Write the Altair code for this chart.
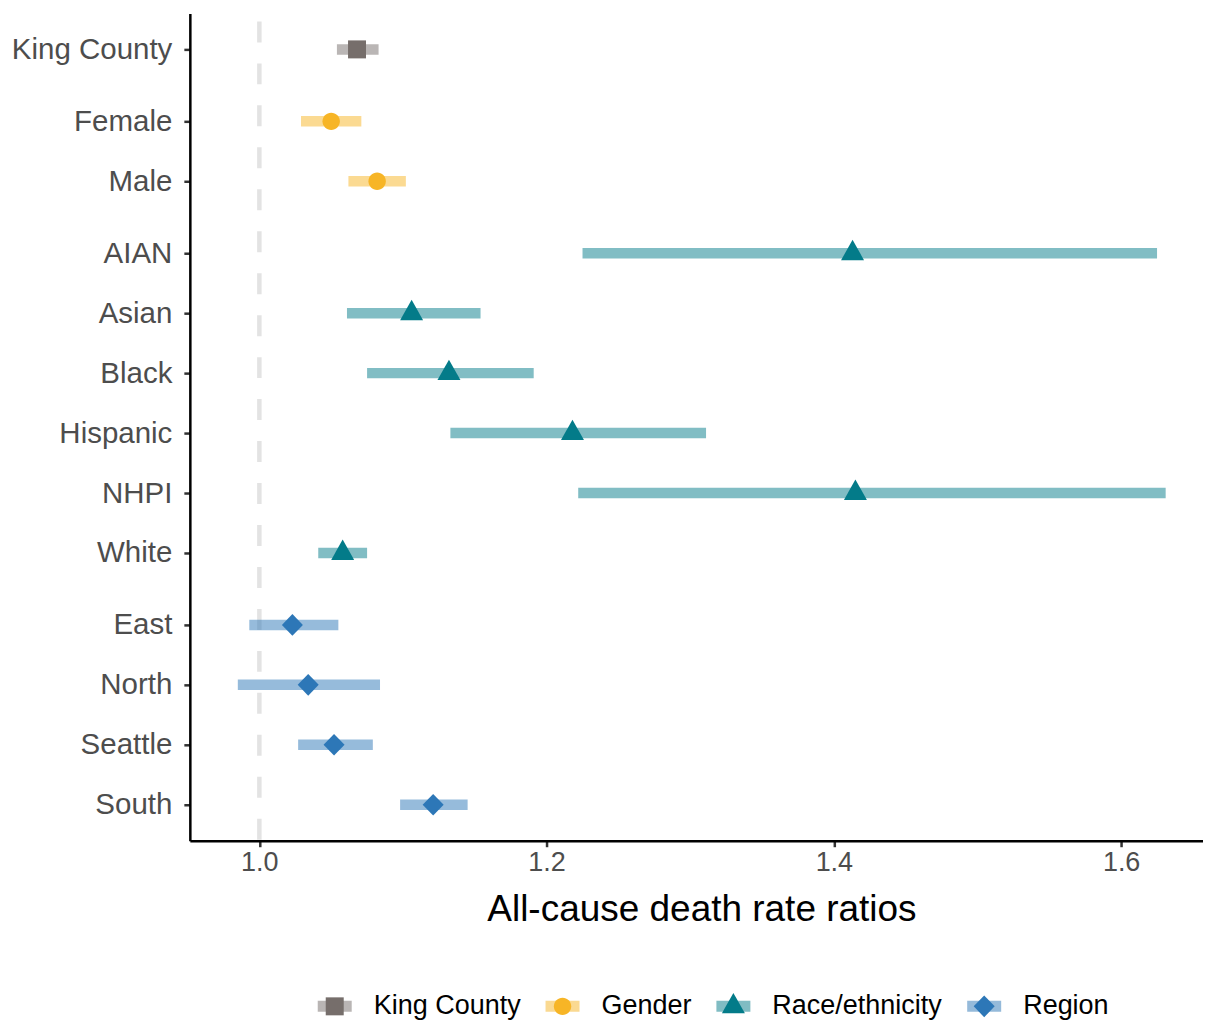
import altair as alt
import pandas as pd

# ---- data ----
groups = ["King County", "Gender", "Race/ethnicity", "Region"]
colors = ["#766e6b", "#f7b526", "#037b89", "#2d77b7"]

labels = ["King County", "Female", "Male", "AIAN", "Asian", "Black",
          "Hispanic", "NHPI", "White", "East", "North", "Seattle", "South"]
label_group = ["King County", "Gender", "Gender",
               "Race/ethnicity", "Race/ethnicity", "Race/ethnicity",
               "Race/ethnicity", "Race/ethnicity", "Race/ethnicity",
               "Region", "Region", "Region", "Region"]
estimate = [1.068, 1.050, 1.082, 1.413, 1.106, 1.132, 1.218, 1.415, 1.058,
            1.023, 1.034, 1.052, 1.121]
lower = [1.054, 1.029, 1.062, 1.225, 1.061, 1.075, 1.133, 1.222, 1.041,
         0.993, 0.985, 1.027, 1.098]
upper = [1.083, 1.071, 1.102, 1.625, 1.154, 1.191, 1.311, 1.631, 1.075,
         1.055, 1.084, 1.079, 1.145]
reference_ratio = [1.0]
x_ticks = [1.0, 1.2, 1.4, 1.6]

# shapes: square, circle, triangle, diamond (custom paths in the unit box)
shape_paths = [
    "M-0.4,-0.4H0.4V0.4H-0.4Z",
    "M-0.387,0A0.387,0.387,0,1,0,0.387,0A0.387,0.387,0,1,0,-0.387,0Z",
    "M0,-0.596L0.511,0.311L-0.511,0.311Z",
    "M0,-0.48L0.467,0L0,0.48L-0.467,0Z",
]

# ---- layout: rows with an extra gap between groups ----
group_idx = [groups.index(g) for g in label_group]
positions = [5 * i + g for i, g in enumerate(group_idx)]

df = pd.DataFrame({
    "label": labels, "group": label_group, "estimate": estimate,
    "lower": lower, "upper": upper, "pos": positions,
})
ref_df = pd.DataFrame({"ref": reference_ratio})

FONT = "Liberation Sans"
SYM = 2025        # point symbol size (custom paths are scaled by sqrt(size)/2)
BAR_SYM = 1156    # legend bar length 34 px
BAR_W = 11

label_expr = "[{}][indexof([{}], datum.value)]".format(
    ",".join("'" + l + "'" for l in labels), ",".join(str(p) for p in positions))

x_scale = alt.Scale(domain=[0.9516, 1.657], nice=False, zero=False)
x_axis = alt.Axis(values=x_ticks, format=".1f", title="All-cause death rate ratios",
                  labelPadding=3, titlePadding=16, labelFontSize=27, titleX=512)
y_scale = alt.Scale(domain=[-3, 66], reverse=True, nice=False, zero=False)
y_axis = alt.Axis(values=positions, labelExpr=label_expr, title=None,
                  labelPadding=12, labelFontSize=29.5)

LX, LY = 122.5, 971

bar_legend = alt.Legend(
    title=None, orient="none", legendX=LX, legendY=LY, direction="horizontal",
    symbolType="stroke", symbolSize=BAR_SYM,
    symbolStrokeWidth=BAR_W, symbolOpacity=0.5, labelOffset=16.5, columnPadding=2,
)
pt_legend = alt.Legend(
    title=None, orient="none", legendX=LX, legendY=LY, direction="horizontal",
    symbolSize=SYM, symbolStrokeWidth=0, symbolOpacity=1, labelOffset=16.5,
    columnPadding=19, labelOpacity=0,
)

ref_line = alt.Chart(ref_df).mark_rule(
    color="#e3e3e3", strokeWidth=4.5, strokeDash=[21, 21], strokeDashOffset=34
).encode(x=alt.X("ref:Q", scale=x_scale, axis=x_axis))

bars = alt.Chart(df).mark_rule(strokeWidth=10.5, opacity=0.5).encode(
    x=alt.X("lower:Q", scale=x_scale, axis=x_axis),
    x2="upper:Q",
    y=alt.Y("pos:Q", scale=y_scale, axis=y_axis),
    color=alt.Color("group:N", sort=groups, scale=alt.Scale(range=colors),
                    legend=bar_legend),
)

points = alt.Chart(df).mark_point(filled=True, size=SYM, opacity=1, strokeWidth=0).encode(
    x=alt.X("estimate:Q", scale=x_scale, axis=x_axis),
    y=alt.Y("pos:Q", scale=y_scale, axis=y_axis),
    fill=alt.Fill("group:N", scale=alt.Scale(domain=groups, range=colors),
                  legend=pt_legend),
    shape=alt.Shape("group:N", scale=alt.Scale(domain=groups, range=shape_paths),
                    legend=pt_legend),
)

chart = alt.layer(ref_line, bars, points).properties(
    width=1014, height=828,
    padding={"left": 3, "top": 2, "right": 0, "bottom": 0},
).configure_view(stroke=None).configure_axis(
    labelFont=FONT, labelColor="#4d4d4d",
    tickColor="#333333", tickWidth=2.5, tickSize=6,
    domainColor="black", domainWidth=2.5, grid=False,
    titleFont=FONT, titleFontSize=37, titleColor="black", titleFontWeight="normal",
).configure_legend(
    labelFont=FONT, labelFontSize=27, labelColor="black", padding=0, labelLimit=400,
)

chart.save("out.html", embed_options={"renderer": "svg", "actions": False})
